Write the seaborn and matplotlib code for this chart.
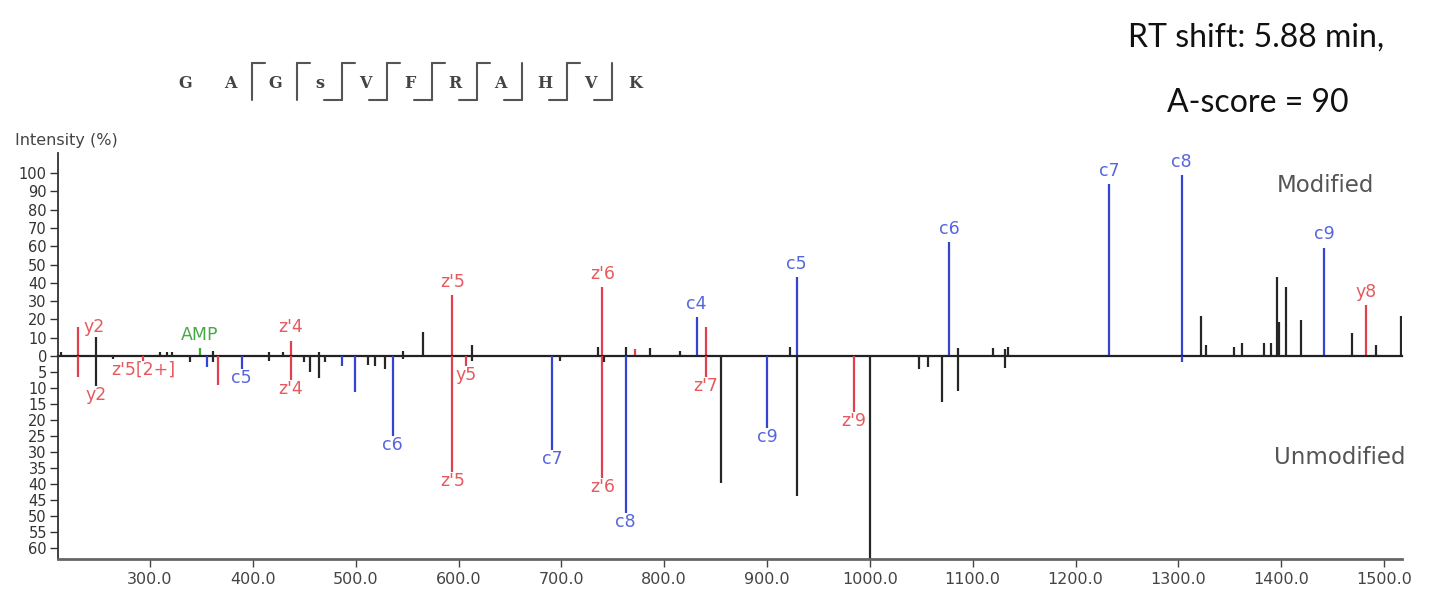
import numpy as np
import matplotlib
matplotlib.use("Agg")
import matplotlib.pyplot as plt
import seaborn as sns

# --- data ---
# upper half: modified peptide (intensity %)
mod_mz = [213.4, 229.7, 247.2, 309.7, 316.2, 321.1, 348.6, 361.6, 416.0, 429.0,
          437.1, 464.6, 546.3, 565.2, 594.0, 612.8, 735.4, 739.9, 762.6, 771.7,
          786.2, 815.4, 831.6, 840.4, 922.4, 928.9, 1077.0, 1086.0, 1120.0, 1131.5,
          1134.0, 1232.6, 1303.3, 1322.2, 1327.1, 1354.0, 1361.5, 1383.2, 1390.3, 1396.2,
          1397.8, 1404.9, 1419.5, 1441.7, 1468.6, 1482.8, 1492.5, 1516.8]
mod_int = [2.0, 15.6, 10.3, 2.4, 2.4, 2.0, 4.2, 3.0, 2.0, 2.0,
           8.4, 2.0, 3.0, 13.3, 33.3, 6.0, 5.1, 37.8, 5.0, 4.0,
           4.5, 3.0, 21.1, 16.0, 5.0, 43.3, 62.4, 4.2, 4.2, 4.0,
           5.0, 94.2, 98.7, 22.0, 6.0, 5.1, 7.3, 7.3, 7.3, 43.3,
           18.7, 37.8, 19.6, 59.3, 12.4, 27.8, 6.0, 22.0]
mod_color = ["k", "r", "k", "k", "k", "k", "g", "k", "k", "k",
             "r", "k", "k", "k", "r", "k", "k", "r", "k", "r",
             "k", "k", "b", "r", "k", "b", "b", "k", "k", "k",
             "k", "b", "b", "k", "k", "k", "k", "k", "k", "k",
             "k", "k", "k", "b", "k", "r", "k", "k"]
mod_label = ["", "y2", "", "", "", "", "AMP", "", "", "",
             "z'4", "", "", "", "z'5", "", "", "z'6", "", "",
             "", "", "c4", "", "", "c5", "c6", "", "", "",
             "", "c7", "c8", "", "", "", "", "", "", "",
             "", "", "", "c9", "", "y8", "", ""]

# lower half: unmodified peptide (intensity %)
unmod_mz = [229.7, 247.2, 264.3, 293.0, 338.9, 355.1, 361.6, 365.8, 389.2, 416.0,
            437.1, 449.8, 455.6, 464.6, 470.0, 486.4, 499.4, 512.3, 518.8, 528.5,
            536.0, 546.3, 594.0, 607.0, 612.8, 691.3, 698.7, 739.9, 741.5, 762.6,
            840.4, 855.7, 900.2, 928.9, 984.6, 1000.2, 1048.0, 1056.8, 1069.8, 1086.0,
            1131.5, 1303.3]
unmod_int = [6.5, 9.3, 1.0, 1.5, 1.8, 3.3, 2.0, 9.1, 4.0, 1.5,
             7.5, 2.0, 4.9, 7.0, 2.0, 3.0, 11.2, 2.8, 3.0, 4.0,
             25.2, 1.0, 36.2, 3.0, 1.5, 29.4, 1.5, 38.3, 2.0, 49.2,
             6.5, 39.8, 22.6, 44.0, 17.4, 100.0, 4.2, 3.4, 14.3, 10.9,
             3.9, 2.0]
unmod_color = ["r", "k", "k", "r", "k", "b", "k", "r", "b", "k",
               "r", "k", "k", "k", "k", "b", "b", "k", "k", "k",
               "b", "k", "r", "r", "k", "b", "k", "r", "k", "b",
               "r", "k", "b", "k", "r", "k", "k", "k", "k", "k",
               "k", "b"]
unmod_label = ["", "y2", "", "z'5[2+]", "", "", "", "", "c5", "",
               "z'4", "", "", "", "", "", "", "", "", "",
               "c6", "", "z'5", "y5", "", "c7", "", "z'6", "", "c8",
               "z'7", "", "c9", "", "z'9", "", "", "", "", "",
               "", ""]

sequence = ["G", "A", "G", "s", "V", "F", "R", "A", "H", "V", "K"]
c_sites = [2, 3, 4, 5, 6, 7, 9]        # cleavage after residue n (c ions)
z_sites = [4, 5, 6, 7, 8, 9, 10]       # cleavage after residue n (z ions)

x_ticks = np.arange(300, 1501, 100)
up_ticks = np.arange(0, 101, 10)
down_ticks = np.arange(5, 61, 5)

# --- style ---
sns.set_style("ticks")
plt.rcParams["font.family"] = ["DejaVu Sans"]

line_pal = dict(zip("krbg", sns.color_palette(["#262626", "#e2404c", "#3344d0", "#3fa33f"])))
label_pal = {"c": "#5566dd", "z": "#e65a5e", "y": "#e65a5e", "A": "#47a847"}
nudge = {("up", "y2"): (4, 0, "left", "center")}

W, H = 1429, 591
fig = plt.figure(figsize=(W / 100, H / 100), dpi=100)
ax_up = fig.add_axes([58 / W, 1 - 356 / H, 1344 / W, 203 / H])
ax_dn = fig.add_axes([58 / W, 1 - 559 / H, 1344 / W, 203 / H], sharex=ax_up)

ax_up.vlines(mod_mz, 0, mod_int, colors=[line_pal[c] for c in mod_color], lw=1.6)
ax_dn.vlines(unmod_mz, 0, unmod_int, colors=[line_pal[c] for c in unmod_color], lw=1.6)

for ax, xs, ys, labs, side in [(ax_up, mod_mz, mod_int, mod_label, "up"),
                               (ax_dn, unmod_mz, unmod_int, unmod_label, "down")]:
    for x, y, lab in zip(xs, ys, labs):
        if not lab:
            continue
        if side == "up":
            dx, dy, ha, va = nudge.get((side, lab), (0, 3, "center", "bottom"))
        else:
            dx, dy, ha, va = nudge.get((side, lab), (0, 0, "center", "top"))
        ax.annotate(lab, (x, y), xytext=(dx, dy), textcoords="offset points",
                    ha=ha, va=va, fontsize=12.5, color=label_pal[lab[0]])

ax_up.set_xlim(210.5, 1517.5)
ax_up.set_ylim(0, 111)
ax_dn.set_ylim(63.6, 0)

ax_up.set_yticks(up_ticks)
ax_dn.set_yticks(down_ticks)
ax_dn.set_xticks(x_ticks)
ax_dn.set_xticklabels([f"{v:.1f}" for v in x_ticks])
ax_up.tick_params(axis="x", bottom=False, labelbottom=False)

for ax in (ax_up, ax_dn):
    ax.set_facecolor("none")
    ax.tick_params(axis="y", direction="out", length=6, width=1, color="#333333",
                   labelsize=10.5, labelcolor="#333333", pad=2)
    ax.spines["left"].set_color("#333333")
    ax.spines["left"].set_linewidth(1.3)
    ax.spines["top"].set_visible(False)
    ax.spines["right"].set_visible(False)

ax_up.spines["bottom"].set_color("#222222")
ax_up.spines["bottom"].set_linewidth(1.6)
ax_dn.spines["bottom"].set_color("#666666")
ax_dn.spines["bottom"].set_linewidth(2)
ax_dn.tick_params(axis="x", direction="out", length=6, width=1, color="#444444",
                  labelsize=11.5, labelcolor="#444444", pad=3)

# --- header: pixel-space overlay ---
ov = fig.add_axes([0, 0, 1, 1], zorder=-1)
ov.set_xlim(0, W)
ov.set_ylim(H, 0)
ov.axis("off")

ov.text(15, 141, "Intensity (%)", fontsize=11.5, color="#444444", ha="left", va="center")
ov.text(1256, 38, "RT shift: 5.88 min,", fontsize=23, family="Lato", color="#111111",
        ha="center", va="center")
ov.text(1258, 103, "A-score = 90", fontsize=23, family="Lato", color="#111111",
        ha="center", va="center")
ov.text(1325, 185, "Modified", fontsize=16.5, color="#555555",
        ha="center", va="center")
ov.text(1340, 458, "Unmodified", fontsize=16.5, color="#555555",
        ha="center", va="center")

x0, step, ymid = 185, 45, 83
for i, aa in enumerate(sequence):
    ov.text(x0 + i * step, ymid, aa, fontsize=11.5, family="DejaVu Serif",
            fontweight="bold", color="#444444", ha="center", va="center")
for n in sorted(set(c_sites) | set(z_sites)):
    xb = x0 + (n - 0.5) * step
    ov.plot([xb, xb], [63, 100], color="#555555", lw=1.5)
    if n in c_sites:
        ov.plot([xb, xb + 13], [63, 63], color="#555555", lw=1.5)
    if n in z_sites:
        ov.plot([xb - 18, xb], [100, 100], color="#555555", lw=1.5)

fig.savefig("out.png", dpi=100, facecolor="white")
